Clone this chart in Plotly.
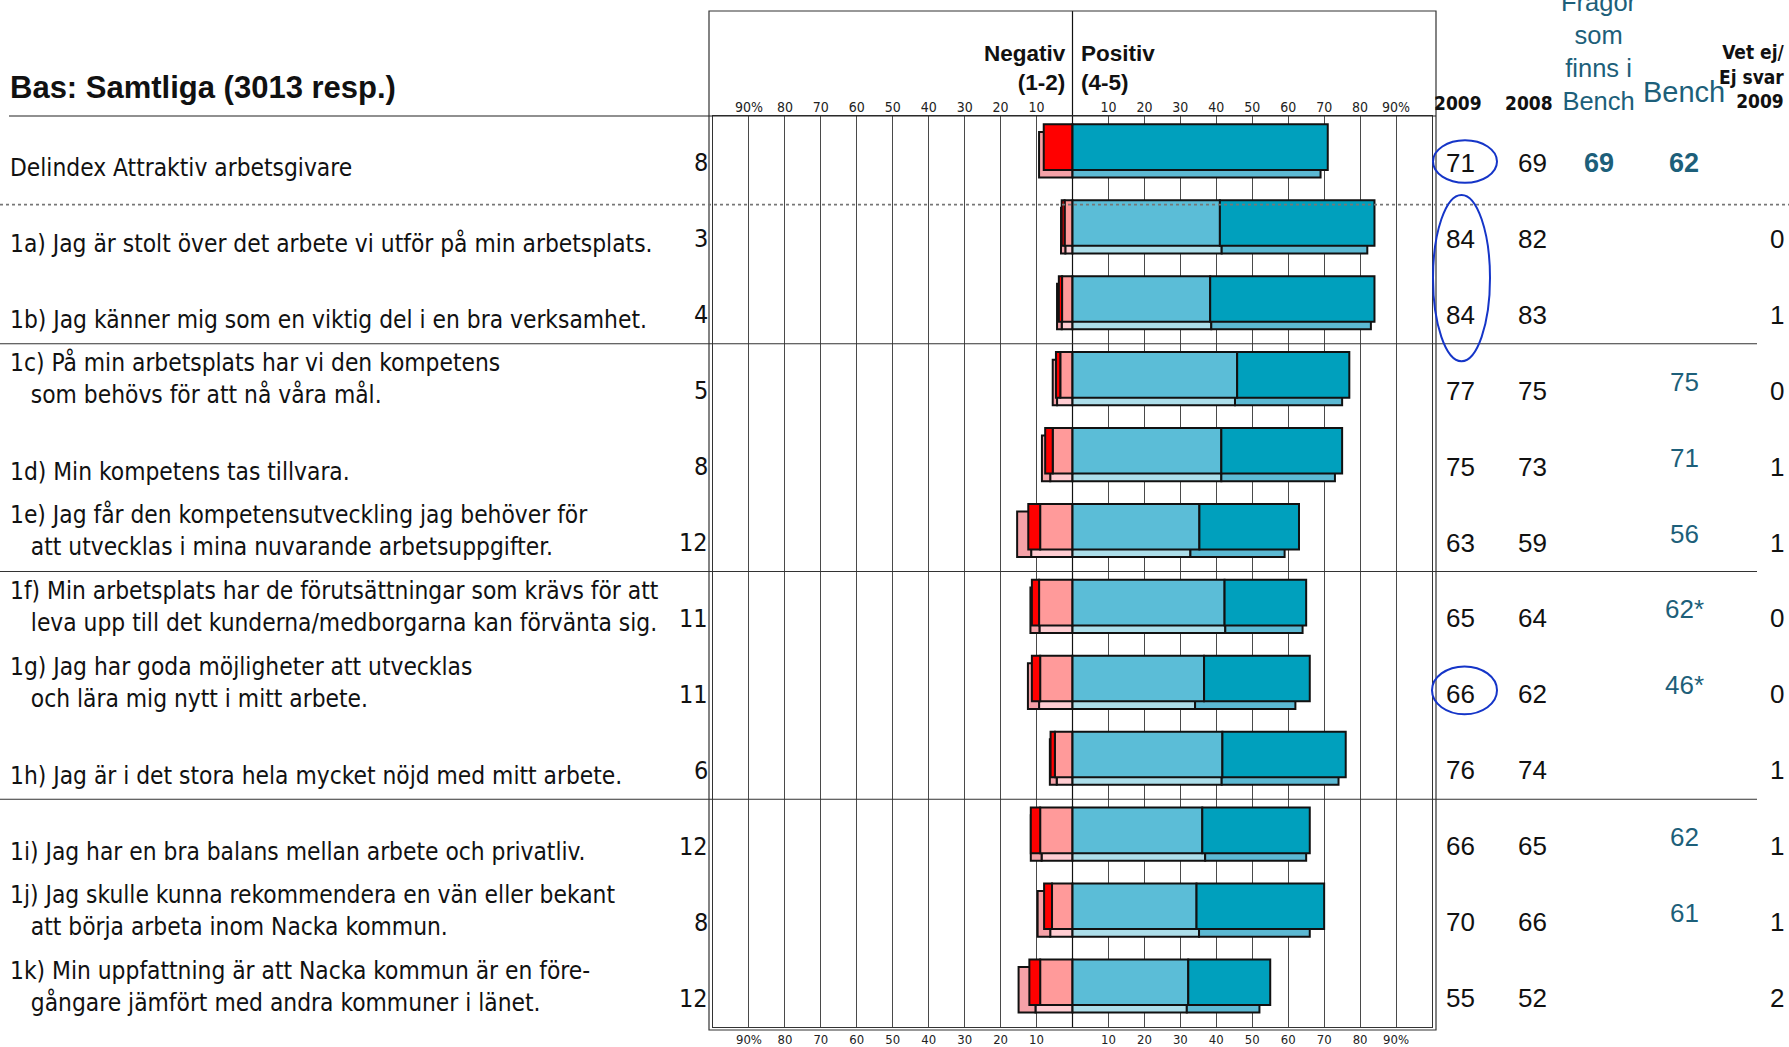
import plotly.graph_objects as go

# ---------------- data ----------------
labels = [
    "Delindex Attraktiv arbetsgivare",
    "1a) Jag är stolt över det arbete vi utför på min arbetsplats.",
    "1b) Jag känner mig som en viktig del i en bra verksamhet.",
    "1c) På min arbetsplats har vi den kompetens<br>\u00a0\u00a0\u00a0som behövs för att nå våra mål.",
    "1d) Min kompetens tas tillvara.",
    "1e) Jag får den kompetensutveckling jag behöver för<br>\u00a0\u00a0\u00a0att utvecklas i mina nuvarande arbetsuppgifter.",
    "1f) Min arbetsplats har de förutsättningar som krävs för att<br>\u00a0\u00a0\u00a0leva upp till det kunderna/medborgarna kan förvänta sig.",
    "1g) Jag har goda möjligheter att utvecklas<br>\u00a0\u00a0\u00a0och lära mig nytt i mitt arbete.",
    "1h) Jag är i det stora hela mycket nöjd med mitt arbete.",
    "1i) Jag har en bra balans mellan arbete och privatliv.",
    "1j) Jag skulle kunna rekommendera en vän eller bekant<br>\u00a0\u00a0\u00a0att börja arbeta inom Nacka kommun.",
    "1k) Min uppfattning är att Nacka kommun är en före-<br>\u00a0\u00a0\u00a0gångare jämfört med andra kommuner i länet.",
]
neg_total_2009 = [8, 3, 4, 5, 8, 12, 11, 11, 6, 12, 8, 12]
pos_2009 = [71, 84, 84, 77, 75, 63, 65, 66, 76, 66, 70, 55]
pos_2008 = [69, 82, 83, 75, 73, 59, 64, 62, 74, 65, 66, 52]
bench_in = ["69", "", "", "", "", "", "", "", "", "", "", ""]
bench = ["62", "", "", "75", "71", "56", "62*", "46*", "", "62", "61", ""]
vet_ej = ["", "0", "1", "0", "1", "1", "0", "0", "1", "1", "1", "2"]

# 2009 split (share answering 2, 1, 4); share 5 = positive total - share 4
neg2_2009 = [None, 2.2, 2.9, 3.4, 5.5, 9.0, 9.3, 9.0, 4.9, 9.0, 5.7, 9.0]
neg1_2009 = [8.0, 0.8, 0.9, 1.2, 2.1, 3.3, 2.0, 2.3, 1.2, 2.6, 2.2, 3.0]
pos4_2009 = [None, 41.0, 38.3, 45.8, 41.4, 35.3, 42.3, 36.6, 41.7, 36.1, 34.5, 32.2]
# 2008 split
neg2_2008 = [None, 2.0, 3.0, 4.3, 6.2, 11.5, 9.2, 9.3, 4.4, 8.6, 6.2, 10.3]
neg1_2008 = [9.3, 1.2, 1.3, 1.2, 2.3, 3.9, 2.5, 3.1, 1.9, 3.0, 3.5, 4.7]
pos4_2008 = [None, 41.5, 38.6, 45.2, 41.4, 32.8, 42.5, 34.1, 41.5, 36.9, 35.2, 31.8]

tick_vals = [-90, -80, -70, -60, -50, -40, -30, -20, -10, 10, 20, 30, 40, 50, 60, 70, 80, 90]
tick_text = ["90%", "80", "70", "60", "50", "40", "30", "20", "10",
             "10", "20", "30", "40", "50", "60", "70", "80", "90%"]

# ---------------- layout geometry (pixels) ----------------
FW, FH = 1789, 1047
ML, MR, MT, MB = 713, 357, 116, 20
PW, PH = FW - ML - MR, FH - MT - MB


def px_x(px):
    return (px - ML) / PW


def px_y(py):
    return (FH - MB - py) / PH


NARROW = "DejaVu Sans Condensed, Liberation Sans Narrow, Arial Narrow, sans-serif"
ARIAL = "Liberation Sans, Arial, sans-serif"
TEAL = "#1d5f7a"
rows = list(range(len(labels)))


def pos5(total, p4):
    return [t - (p or 0) for t, p in zip(total, p4)]


def neg(vals):
    return [None if v is None else -v for v in vals]


def base_after(first):
    return [-(v or 0) for v in first]


fig = go.Figure()
LINE = dict(color="#111111", width=2)

# back (2008) bars, offset downward
back = [
    (neg(neg2_2008), None, "#ffcdd2"),
    (neg(neg1_2008), base_after(neg2_2008), "#f5a2a8"),
    (pos4_2008, None, "#acdeea"),
    (pos5(pos_2008, pos4_2008), [p or 0 for p in pos4_2008], "#5cb9d3"),
]
front = [
    (neg(neg2_2009), None, "#ff9a9a"),
    (neg(neg1_2009), base_after(neg2_2009), "#ff0000"),
    (pos4_2009, None, "#5bbdd7"),
    (pos5(pos_2009, pos4_2009), [p or 0 for p in pos4_2009], "#00a0bd"),
]
for group, off in ((back, -0.29), (front, -0.39)):
    for vals, base, col in group:
        fig.add_trace(go.Bar(
            y=rows, x=vals, base=base if base is not None else 0, orientation="h",
            width=0.6, offset=off, marker=dict(color=col, line=LINE),
            showlegend=False, hoverinfo="skip"))

# invisible trace for top axis
fig.add_trace(go.Scatter(x=[0], y=[0], xaxis="x2", mode="markers",
                         marker=dict(opacity=0), showlegend=False, hoverinfo="skip"))

axis_common = dict(range=[-100, 100], tickvals=tick_vals, ticktext=tick_text,
                   fixedrange=True, automargin=False, ticks="", ticklabelstandoff=0)
fig.update_layout(
    width=FW, height=FH, margin=dict(l=ML, r=MR, t=MT, b=MB, pad=0, autoexpand=False),
    paper_bgcolor="white", plot_bgcolor="white", barmode="overlay",
    xaxis=dict(**axis_common, tickfont=dict(family=NARROW, size=13, color="#222"),
               showgrid=True, gridcolor="#4a4a4a", gridwidth=1,
               zeroline=False, showline=True, linecolor="#333", linewidth=1, mirror=True),
    xaxis2=dict(**axis_common, tickfont=dict(family=NARROW, size=14, color="#222"),
                overlaying="x", side="top", showgrid=False, zeroline=False),
    yaxis=dict(range=[11.5, -0.5], showticklabels=False, showgrid=False, zeroline=False,
               showline=True, linecolor="#333", linewidth=1, mirror=True, fixedrange=True,
               automargin=False),
)

shapes = []
# outer box
shapes.append(dict(type="rect", xref="paper", yref="paper", x0=px_x(709), x1=px_x(1436),
                   y0=px_y(FH - MB + 3), y1=px_y(11), line=dict(color="#333", width=1.2)))
# zero line
shapes.append(dict(type="line", xref="x", yref="paper", x0=0, x1=0, y0=0, y1=px_y(11),
                   line=dict(color="#111", width=1.2), layer="below"))
# header line
shapes.append(dict(type="line", xref="paper", yref="paper", x0=px_x(9), x1=px_x(1436),
                   y0=1, y1=1, line=dict(color="#222", width=1.2)))
# dotted separator
shapes.append(dict(type="line", xref="paper", yref="y", x0=px_x(0), x1=px_x(1789),
                   y0=0.668, y1=0.668, line=dict(color="#777", width=1.6, dash="dot")))
# group separators
for yv in (2.5, 5.5, 8.5):
    shapes.append(dict(type="line", xref="paper", yref="y", x0=px_x(0), x1=px_x(1757),
                       y0=yv, y1=yv, line=dict(color="#333", width=1)))
# highlight ellipses
for (xa, xb, ya, yb) in ((1433, 1497, -0.18, 0.38), (1433, 1490, 0.54, 2.73),
                         (1432, 1497, 6.75, 7.38)):
    shapes.append(dict(type="circle", xref="paper", yref="y", x0=px_x(xa), x1=px_x(xb),
                       y0=ya, y1=yb, line=dict(color="#1535c8", width=2)))
fig.update_layout(shapes=shapes)

ann = []
LABEL_SIZE = 24.3
LH = 34
for i, lab in enumerate(labels):
    n = lab.count("<br>") + 1
    ann.append(dict(xref="paper", yref="y", x=px_x(8), y=i, xanchor="left", yanchor="middle",
                    align="left", text=lab, showarrow=False,
                    yshift=-(14 - (n - 1) * LH / 2),
                    font=dict(family=NARROW, size=LABEL_SIZE, color="#111")))
    ann.append(dict(xref="paper", yref="y", x=px_x(710), y=i, xanchor="right", yanchor="middle",
                    text=str(neg_total_2009[i]), showarrow=False, yshift=-9,
                    font=dict(family=NARROW, size=25, color="#111")))
    ann.append(dict(xref="paper", yref="y", x=px_x(1460), y=i, xanchor="center", yanchor="middle",
                    text=str(pos_2009[i]), showarrow=False, yshift=-9,
                    font=dict(family=ARIAL, size=26, color="#111")))
    ann.append(dict(xref="paper", yref="y", x=px_x(1532), y=i, xanchor="center", yanchor="middle",
                    text=str(pos_2008[i]), showarrow=False, yshift=-9,
                    font=dict(family=ARIAL, size=26, color="#111")))
    if bench_in[i]:
        ann.append(dict(xref="paper", yref="y", x=px_x(1599), y=i, xanchor="center",
                        yanchor="middle", text="<b>%s</b>" % bench_in[i], showarrow=False,
                        yshift=-9, font=dict(family=ARIAL, size=27, color=TEAL)))
    if bench[i]:
        bold = i == 0
        ann.append(dict(xref="paper", yref="y", x=px_x(1684), y=i, xanchor="center",
                        yanchor="middle", text=("<b>%s</b>" if bold else "%s") % bench[i],
                        showarrow=False, yshift=-9 if bold else 0,
                        font=dict(family=ARIAL, size=27 if bold else 26, color=TEAL)))
    if vet_ej[i]:
        ann.append(dict(xref="paper", yref="y", x=px_x(1786), y=i, xanchor="right",
                        yanchor="middle", text=vet_ej[i], showarrow=False, yshift=-9,
                        font=dict(family=ARIAL, size=26, color="#111")))


# header texts
def head(text, x, y, xanchor="center", size=20, family=ARIAL, color="#111", align="center"):
    ann.append(dict(xref="paper", yref="paper", x=px_x(x), y=px_y(y), xanchor=xanchor,
                    yanchor="middle", text=text, showarrow=False, align=align,
                    font=dict(family=family, size=size, color=color)))


head("<b>Bas: Samtliga (3013 resp.)</b>", 8, 88, xanchor="left", size=31, align="left")
head("<b>Negativ<br>(1-2)</b>", 1068, 68, xanchor="right", size=22.5, align="right")
head("<b>Positiv<br>(4-5)</b>", 1079, 68, xanchor="left", size=22.5, align="left")
head("<b>2009</b>", 1458, 103, size=19, family=NARROW)
head("<b>2008</b>", 1529, 103, size=19, family=NARROW)
head("Frågor<br>som<br>finns i<br>Bench", 1599, 52, size=25.5, color=TEAL)
head("Bench", 1684, 92, size=29, color=TEAL)
head("<b>Vet ej/<br>Ej svar<br>2009</b>", 1787, 76, xanchor="right", size=19,
     family=NARROW, align="right")

fig.update_layout(annotations=ann)
fig.write_html("out.html")
